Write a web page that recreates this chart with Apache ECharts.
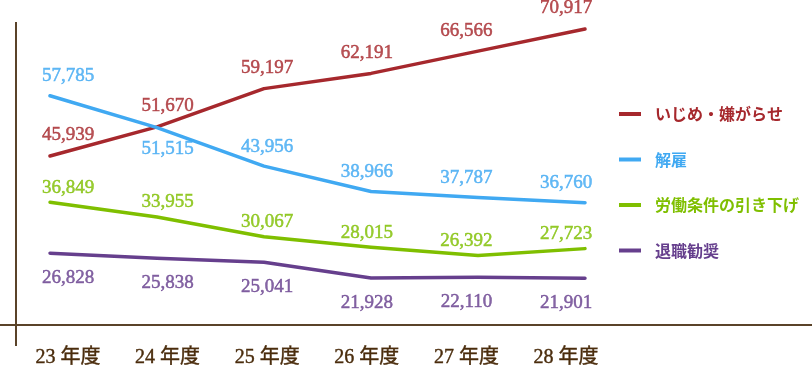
<!DOCTYPE html>
<html><head><meta charset="utf-8">
<script src="https://cdn.jsdelivr.net/npm/echarts@6/dist/echarts.min.js"></script>
<style>html,body{margin:0;padding:0;background:#fff}#c{width:812px;height:387px}</style>
</head><body><div id="c"></div>
<script>
const categories = ['23 年度','24 年度','25 年度','26 年度','27 年度','28 年度'];
const seriesNames = ['いじめ・嫌がらせ','解雇','労働条件の引き下げ','退職勧奨'];
const bullying = [45939, 51670, 59197, 62191, 66566, 70917];
const dismissal = [57785, 51515, 43956, 38966, 37787, 36760];
const conditions = [36849, 33955, 30067, 28015, 26392, 27723];
const retirement = [26828, 25838, 25041, 21928, 22110, 21901];
const dismissalLabelSide = ['top','bottom','top','top','top','top'];

const colors = ['#a6282d', '#40a9f2', '#7fbf00', '#663f8d'];
const values = [bullying, dismissal, conditions, retirement];
const sides = [
  bullying.map(() => 'top'),
  dismissalLabelSide,
  conditions.map(() => 'top'),
  retirement.map(() => 'bottom')
];
const dists = [{top:11,bottom:12},{top:10,bottom:12},{top:5,bottom:6},{top:15,bottom:15}];
const yMin = 12700, yMax = 72300;
const axisColor = '#5a4329';

const chart = echarts.init(document.getElementById('c'), null, {renderer:'canvas'});
const series = [];
values.forEach((vals, i) => {
  series.push({
    name: seriesNames[i], type: 'line', xAxisIndex: 0, yAxisIndex: 0,
    data: vals, symbol: 'none', lineStyle: {width: 3.5, color: colors[i], cap:'round', join:'round'},
    itemStyle: {color: colors[i]}, z: 3
  });
  series.push({
    name: 'lbl' + i, type: 'scatter', xAxisIndex: 1, yAxisIndex: 1,
    symbolSize: 0.1, itemStyle: {color: 'rgba(255,255,255,0)'}, silent: true,
    data: vals.map((v, j) => ({
      value: v,
      label: {position: sides[i][j], distance: dists[i][sides[i][j]]}
    })),
    label: {
      show: true, color: colors[i], fontFamily: 'Liberation Serif', fontSize: 19,
      textBorderColor: colors[i], textBorderWidth: 0.5,
      formatter: p => p.value.toLocaleString('en-US')
    }, z: 4
  });
});

chart.setOption({
  animation: false,
  grid: [
    {left: 50, right: 227, top: 22, bottom: 62},
    {left: 68, right: 246, top: 22, bottom: 62}
  ],
  xAxis: [
    {gridIndex: 0, type: 'category', data: categories, boundaryGap: false,
     axisLine: {show: false}, axisTick: {show: false}, axisLabel: {show: false}, splitLine: {show: false}},
    {gridIndex: 1, type: 'category', data: categories, boundaryGap: false,
     axisLine: {show: false}, axisTick: {show: false}, splitLine: {show: false},
     axisLabel: {color: '#4a2c0c', fontSize: 20, margin: 23, fontFamily: 'Liberation Serif, Noto Sans CJK JP',
       textBorderColor: '#4a2c0c', textBorderWidth: 0.4}}
  ],
  yAxis: [
    {gridIndex: 0, type: 'value', min: yMin, max: yMax, show: false},
    {gridIndex: 1, type: 'value', min: yMin, max: yMax, show: false}
  ],
  legend: {
    data: seriesNames.map((n, i) => ({name: n, textStyle: {color: colors[i]}})),
    orient: 'vertical', left: 614, top: 101, itemGap: 29.5, itemWidth: 22, itemHeight: 4,
    icon: 'rect', textStyle: {fontSize: 16, fontWeight: 'bold', fontFamily: 'Noto Sans CJK JP', padding: [0,0,0,9]},
    selectedMode: false
  },
  graphic: [
    {type: 'line', shape: {x1: 0, y1: 325, x2: 812, y2: 325}, style: {stroke: axisColor, lineWidth: 2}, silent: true},
    {type: 'line', shape: {x1: 16, y1: 22, x2: 16, y2: 346}, style: {stroke: axisColor, lineWidth: 2}, silent: true}
  ],
  series: series
});
</script></body></html>
